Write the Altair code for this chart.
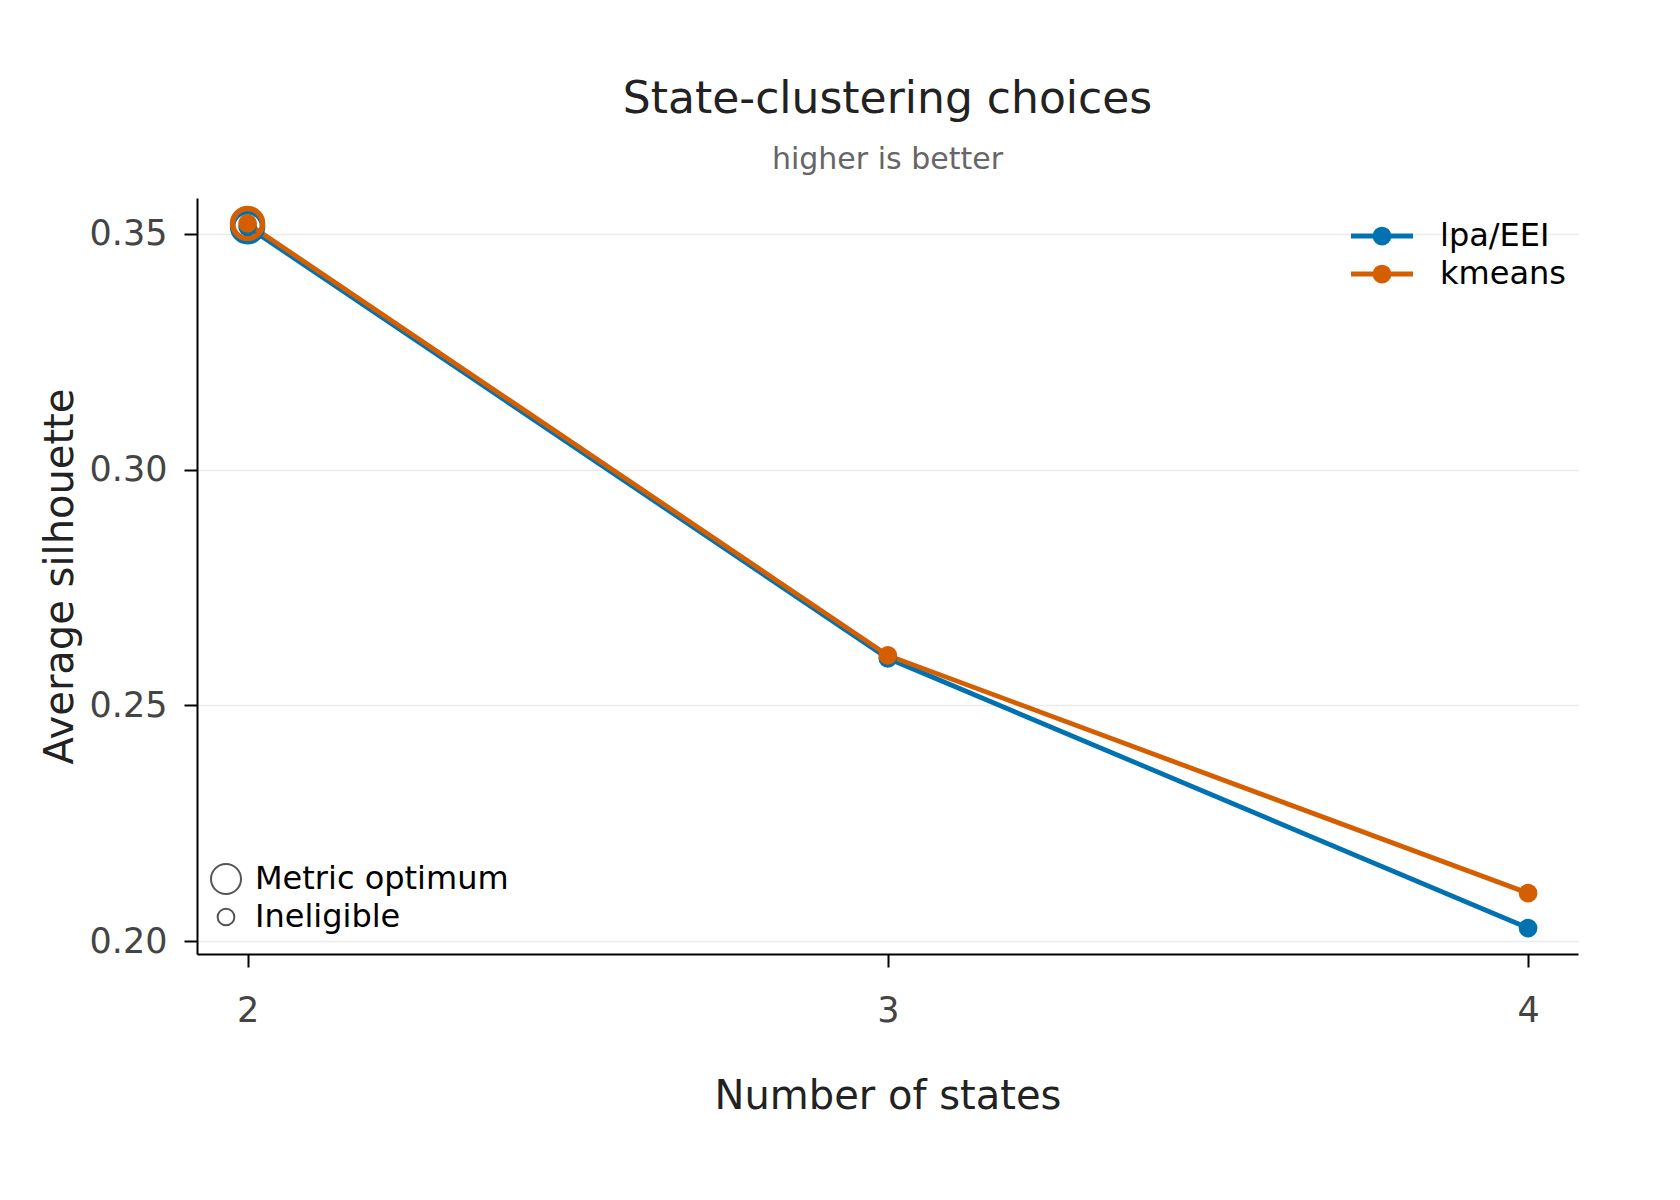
import altair as alt
import pandas as pd

# ---- data ----
states = [2, 3, 4]
series_names = ["lpa/EEI", "kmeans"]
lpa_eei = [0.3515, 0.2600, 0.2028]
kmeans = [0.3522, 0.2606, 0.2102]
series_colors = ["#0072B2", "#D55E00"]
marker_kinds = ["Metric optimum", "Ineligible"]
y_ticks = [0.20, 0.25, 0.30, 0.35]

rows = []
for name, vals in zip(series_names, [lpa_eei, kmeans]):
    for s, v in zip(states, vals):
        rows.append({"states": s, "sil": v, "series": name})
df = pd.DataFrame(rows)

opt_rows = []
for name, vals in zip(series_names, [lpa_eei, kmeans]):
    i = max(range(len(vals)), key=lambda k: vals[k])
    opt_rows.append({"states": states[i], "sil": vals[i], "series": name,
                     "kind": marker_kinds[0]})
opt = pd.DataFrame(opt_rows)

FONT = "DejaVu Sans"

# line with a dot (dot drawn as concentric stroked rings so it looks solid)
line_sym = ("M-2,0L2,0"
            "M-0.45,0A0.45,0.45,0,1,1,0.45,0A0.45,0.45,0,1,1,-0.45,0"
            "M-0.3,0A0.3,0.3,0,1,1,0.3,0A0.3,0.3,0,1,1,-0.3,0"
            "M-0.15,0A0.15,0.15,0,1,1,0.15,0A0.15,0.15,0,1,1,-0.15,0")

color_legend = alt.Legend(
    title=None, orient="none", legendX=1167, legendY=20,
    symbolType=line_sym, symbolSize=961, symbolStrokeWidth=4.8, symbolOpacity=1,
    labelFont=FONT, labelFontSize=32, labelColor="#000", labelOffset=40,
    labelLimit=0, rowPadding=3, padding=0,
)

x_enc = alt.X("states:Q",
              scale=alt.Scale(domain=[1.921, 4.078], nice=False, zero=False),
              axis=alt.Axis(values=states, format="d", title="Number of states",
                            grid=False, labelPadding=26, titleY=154,
                            titleBaseline="alphabetic"))
y_enc = alt.Y("sil:Q",
              scale=alt.Scale(domain=[0.1973, 0.3576], nice=False, zero=False),
              axis=alt.Axis(values=y_ticks, format=".2f", title="Average silhouette",
                            grid=True, gridColor="#ebebeb", gridWidth=1.5,
                            labelPadding=17, titleX=-125, titleY=378,
                            titleAngle=270, titleBaseline="alphabetic"))
color_enc = alt.Color("series:N",
                      scale=alt.Scale(domain=series_names, range=series_colors),
                      legend=color_legend)

base = alt.Chart(df)

lines = base.mark_line(strokeWidth=4.8).encode(x=x_enc, y=y_enc, color=color_enc)

rings = alt.Chart(opt).mark_point(filled=False, strokeWidth=5.5, opacity=1).encode(
    x=x_enc, y=y_enc, color=color_enc,
    size=alt.Size("kind:O",
                  scale=alt.Scale(domain=marker_kinds, range=[900, 280]),
                  legend=alt.Legend(
                      title=None, orient="none", legendX=13, legendY=665,
                      labelFont=FONT, labelFontSize=32, labelColor="#000",
                      labelOffset=13, labelLimit=0, rowPadding=3, padding=0,
                      symbolStrokeWidth=2, symbolOpacity=1,
                      symbolStrokeColor="#555", symbolFillColor="transparent",
                  )),
)

points = base.mark_point(filled=True, size=350, opacity=1).encode(
    x=x_enc, y=y_enc, color=color_enc)

chart = alt.layer(lines, rings, points).properties(
    width=1381, height=756,
    title=alt.TitleParams(
        "State-clustering choices", subtitle="higher is better",
        font=FONT, fontSize=44, fontWeight="normal", color="#222",
        subtitleFont=FONT, subtitleFontSize=30, subtitleColor="#666",
        anchor="middle", offset=22, subtitlePadding=23,
    ),
    autosize=alt.AutoSizeParams(type="none"),
    padding={"left": 189, "top": 190, "right": 94, "bottom": 230},
).configure(background="white").configure_view(stroke=None).configure_axis(
    domainColor="#000", domainWidth=2, tickColor="#000", tickWidth=2, tickSize=13,
    labelFont=FONT, labelFontSize=35, labelColor="#444",
    titleFont=FONT, titleFontSize=40, titleColor="#222", titleFontWeight="normal",
).configure_legend(
    symbolBaseStrokeColor="#555", symbolBaseFillColor="transparent",
)

chart.save("out.html", embed_options={"renderer": "svg", "actions": False})
